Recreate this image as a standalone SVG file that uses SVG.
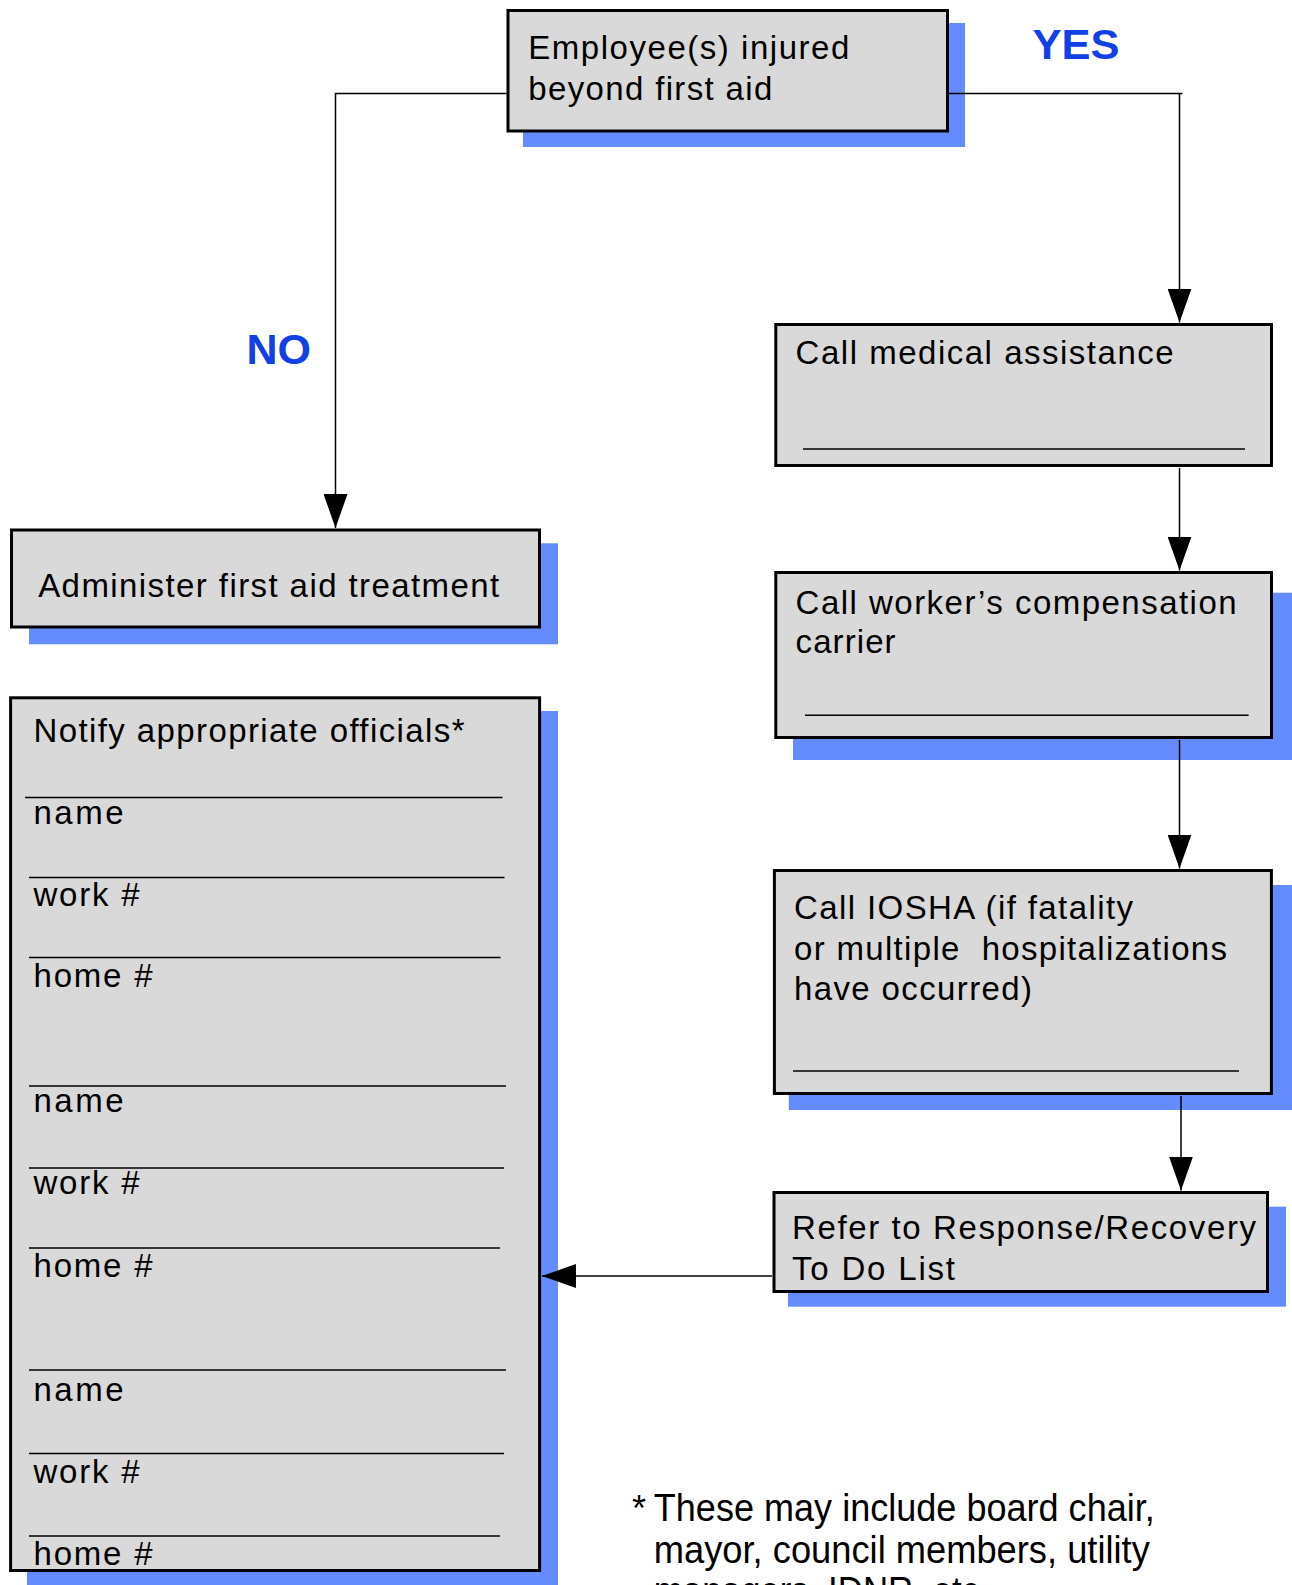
<svg xmlns="http://www.w3.org/2000/svg" width="1292" height="1585" viewBox="0 0 1292 1585">
<style>
.shadow{fill:#648cff;stroke:none}
.box{fill:#d9d9d9;stroke:#000;stroke-width:3}
.t{font-family:"Liberation Sans",Arial,sans-serif;font-size:33px;fill:#000}
.fn{font-family:"Liberation Sans",Arial,sans-serif;font-size:38px;fill:#000}
.lbl{font-family:"Liberation Sans",Arial,sans-serif;font-size:43px;font-weight:bold;fill:#1040e6}
.rule{stroke:#000;stroke-width:1.5;fill:none}
.conn{stroke:#000;stroke-width:1.5;fill:none}
</style>
<defs>
<marker id="arr" markerUnits="userSpaceOnUse" markerWidth="34" markerHeight="24" viewBox="0 0 34 24" refX="34" refY="12" orient="auto">
<path d="M0,0 L34,12 L0,24 Z" fill="#000"/>
</marker>
</defs>
<rect width="1292" height="1585" fill="#fff"/>

<g id="label-yes"><text class="lbl" x="1032.5" y="58.5" textLength="87" lengthAdjust="spacingAndGlyphs">YES</text></g>
<g id="label-no"><text class="lbl" x="246.5" y="363.5" textLength="64.5" lengthAdjust="spacingAndGlyphs">NO</text></g>

<g id="node-injured">
<rect class="shadow" x="523" y="23" width="442" height="124"/>
<rect class="box" x="508" y="10.5" width="439.5" height="120.5"/>
<text class="t" x="528.3" y="59.3" textLength="321" lengthAdjust="spacing">Employee(s) injured</text>
<text class="t" x="528.3" y="100" textLength="244" lengthAdjust="spacing">beyond first aid</text>
</g>

<g id="node-firstaid">
<rect class="shadow" x="29" y="543.3" width="529" height="101"/>
<rect class="box" x="11.5" y="530" width="528" height="97"/>
<text class="t" x="38.2" y="597" textLength="461" lengthAdjust="spacing">Administer first aid treatment</text>
</g>

<g id="node-medical">
<rect class="box" x="775.8" y="324.5" width="495.7" height="141"/>
<text class="t" x="795.6" y="363.5" textLength="378" lengthAdjust="spacing">Call medical assistance</text>
<line class="rule" x1="803" y1="449" x2="1245" y2="449"/>
</g>

<g id="node-workcomp">
<rect class="shadow" x="793" y="592.7" width="499" height="167.3"/>
<rect class="box" x="775.8" y="572.5" width="495.7" height="165"/>
<text class="t" x="795.6" y="613.5" textLength="441" lengthAdjust="spacing">Call worker’s compensation</text>
<text class="t" x="795.6" y="652.7" textLength="100" lengthAdjust="spacing">carrier</text>
<line class="rule" x1="805" y1="715.3" x2="1248.6" y2="715.3"/>
</g>

<g id="node-iosha">
<rect class="shadow" x="788.8" y="885" width="503.2" height="225"/>
<rect class="box" x="774.4" y="870.5" width="497" height="223"/>
<text class="t" x="794" y="919" textLength="339" lengthAdjust="spacing">Call IOSHA (if fatality</text>
<text class="t" x="794" y="960" textLength="433" lengthAdjust="spacing" style="white-space:pre">or multiple  hospitalizations</text>
<text class="t" x="794" y="1000" textLength="238" lengthAdjust="spacing">have occurred)</text>
<line class="rule" x1="793" y1="1071" x2="1239" y2="1071"/>
</g>

<g id="node-refer">
<rect class="shadow" x="788" y="1206.7" width="498" height="100"/>
<rect class="box" x="774" y="1192.5" width="493.5" height="99"/>
<text class="t" x="792" y="1238.5" textLength="464" lengthAdjust="spacing">Refer to Response/Recovery</text>
<text class="t" x="792" y="1280" textLength="163" lengthAdjust="spacing">To Do List</text>
</g>

<g id="node-notify">
<rect class="shadow" x="27" y="711" width="531" height="880"/>
<rect class="box" x="10.6" y="697.8" width="529" height="872.7"/>
<text class="t" x="33.5" y="742" textLength="431" lengthAdjust="spacing">Notify appropriate officials*</text>
<line class="rule" x1="25" y1="797.5" x2="502.5" y2="797.5"/>
<text class="t" x="33.5" y="824" textLength="90" lengthAdjust="spacing">name</text>
<line class="rule" x1="29" y1="877.5" x2="504.5" y2="877.5"/>
<text class="t" x="33.5" y="906" textLength="106" lengthAdjust="spacing">work #</text>
<line class="rule" x1="29" y1="957.5" x2="500.5" y2="957.5"/>
<text class="t" x="33.5" y="987" textLength="119" lengthAdjust="spacing">home #</text>
<line class="rule" x1="29" y1="1086" x2="506" y2="1086"/>
<text class="t" x="33.5" y="1112" textLength="90" lengthAdjust="spacing">name</text>
<line class="rule" x1="29" y1="1168" x2="504" y2="1168"/>
<text class="t" x="33.5" y="1194" textLength="106" lengthAdjust="spacing">work #</text>
<line class="rule" x1="29" y1="1248" x2="500" y2="1248"/>
<text class="t" x="33.5" y="1277" textLength="119" lengthAdjust="spacing">home #</text>
<line class="rule" x1="29" y1="1370" x2="506" y2="1370"/>
<text class="t" x="33.5" y="1401" textLength="90" lengthAdjust="spacing">name</text>
<line class="rule" x1="29" y1="1453.5" x2="504" y2="1453.5"/>
<text class="t" x="33.5" y="1483" textLength="106" lengthAdjust="spacing">work #</text>
<line class="rule" x1="29" y1="1536" x2="500" y2="1536"/>
<text class="t" x="33.5" y="1565" textLength="119" lengthAdjust="spacing">home #</text>
</g>

<g id="footnote">
<text class="fn" y="1521"><tspan x="632" font-size="36">*</tspan><tspan x="653.8" textLength="501" lengthAdjust="spacingAndGlyphs">These may include board chair,</tspan></text>
<text class="fn" x="653.8" y="1562.5" textLength="496" lengthAdjust="spacingAndGlyphs">mayor, council members, utility</text>
<text class="fn" x="653.8" y="1604" textLength="335" lengthAdjust="spacingAndGlyphs">managers, IDNR, etc.</text>
</g>

<g id="connectors">
<path class="conn" d="M506.5,93.5 H335.5 V528" marker-end="url(#arr)"/>
<path class="conn" d="M949,93.5 H1182.5"/>
<path class="conn" d="M1179.5,93.5 V322.5" marker-end="url(#arr)"/>
<path class="conn" d="M1179.5,468 V570.5" marker-end="url(#arr)"/>
<path class="conn" d="M1179.5,740 V868.5" marker-end="url(#arr)"/>
<path class="conn" d="M1181,1096 V1190.5" marker-end="url(#arr)"/>
<path class="conn" d="M772,1276 H542" marker-end="url(#arr)"/>
</g>
</svg>
